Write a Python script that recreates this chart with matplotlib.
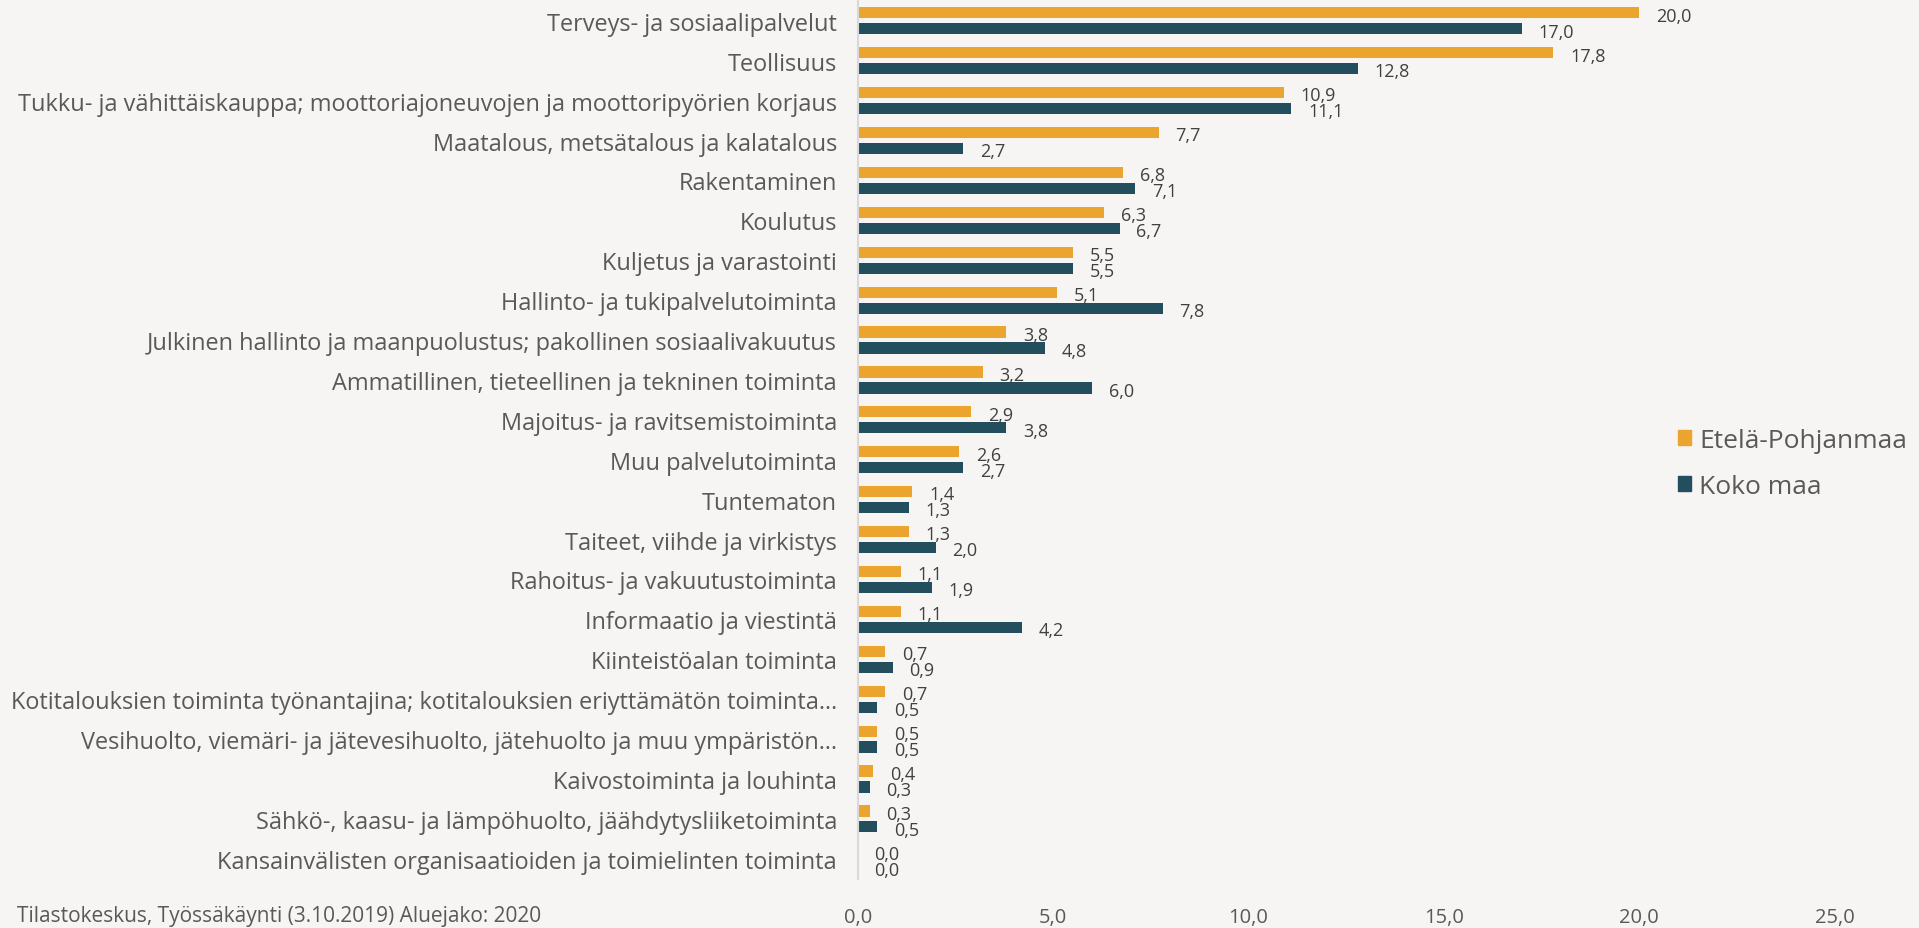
import numpy as np
import matplotlib.pyplot as plt
from matplotlib.patches import Patch

plt.rcParams['font.family'] = ['Open Sans', 'DejaVu Sans']

toimialat = ['Terveys- ja sosiaalipalvelut', 'Teollisuus',
             'Tukku- ja vähittäiskauppa; moottoriajoneuvojen ja moottoripyörien korjaus',
             'Maatalous, metsätalous ja kalatalous', 'Rakentaminen', 'Koulutus',
             'Kuljetus ja varastointi', 'Hallinto- ja tukipalvelutoiminta',
             'Julkinen hallinto ja maanpuolustus; pakollinen sosiaalivakuutus',
             'Ammatillinen, tieteellinen ja tekninen toiminta',
             'Majoitus- ja ravitsemistoiminta', 'Muu palvelutoiminta', 'Tuntematon',
             'Taiteet, viihde ja virkistys', 'Rahoitus- ja vakuutustoiminta',
             'Informaatio ja viestintä', 'Kiinteistöalan toiminta',
             'Kotitalouksien toiminta työnantajina; kotitalouksien eriyttämätön toiminta…',
             'Vesihuolto, viemäri- ja jätevesihuolto, jätehuolto ja muu ympäristön…',
             'Kaivostoiminta ja louhinta',
             'Sähkö-, kaasu- ja lämpöhuolto, jäähdytysliiketoiminta',
             'Kansainvälisten organisaatioiden ja toimielinten toiminta']
etela_pohjanmaa = [20.0, 17.8, 10.9, 7.7, 6.8, 6.3, 5.5, 5.1, 3.8, 3.2, 2.9, 2.6, 1.4,
                   1.3, 1.1, 1.1, 0.7, 0.7, 0.5, 0.4, 0.3, 0.0]
koko_maa = [17.0, 12.8, 11.1, 2.7, 7.1, 6.7, 5.5, 7.8, 4.8, 6.0, 3.8, 2.7, 1.3,
            2.0, 1.9, 4.2, 0.9, 0.5, 0.5, 0.3, 0.5, 0.0]
xticks = [0, 5, 10, 15, 20, 25]
lahde = 'Tilastokeskus, Työssäkäynti (3.10.2019) Aluejako: 2020'

oranssi = '#EBA52F'
tumma = '#234E5E'
tausta = '#F6F5F3'
teksti = '#595959'

fig = plt.figure(figsize=(19.19, 9.29), dpi=100, facecolor=tausta)
ax = fig.add_axes([0.447, 0.053, 0.509, 0.945], facecolor=tausta)

y = np.arange(len(toimialat))
h = 0.28
ax.barh(y - 0.2, etela_pohjanmaa, height=h, color=oranssi)
ax.barh(y + 0.2, koko_maa, height=h, color=tumma)

def fmt(v):
    return f'{v:.1f}'.replace('.', ',')

for i in range(len(y)):
    ax.annotate(fmt(etela_pohjanmaa[i]), (etela_pohjanmaa[i], y[i] - 0.2),
                xytext=(12, -2), textcoords='offset points', va='center',
                ha='left', fontsize=13, color='#404040')
    ax.annotate(fmt(koko_maa[i]), (koko_maa[i], y[i] + 0.2),
                xytext=(12, -2), textcoords='offset points', va='center',
                ha='left', fontsize=13, color='#404040')

ax.set_ylim(len(y) - 0.5, -0.5)
ax.set_yticks(y)
ax.set_yticklabels(toimialat, fontsize=16.9, color=teksti)
ax.set_xlim(0, 25)
ax.set_xticks(xticks)
ax.set_xticklabels([fmt(v) for v in xticks], fontsize=14.5, color=teksti)
ax.tick_params(axis='both', length=0)
ax.tick_params(axis='x', pad=20)
ax.tick_params(axis='y', pad=15)
for s in ['top', 'right', 'bottom']:
    ax.spines[s].set_visible(False)
ax.spines['left'].set_color('#D9D9D9')
ax.spines['left'].set_linewidth(1.5)

handles = [Patch(color=oranssi), Patch(color=tumma)]
fig.legend(handles, ['Etelä-Pohjanmaa', 'Koko maa'], loc='center left',
           bbox_to_anchor=(0.862, 0.5), frameon=False, fontsize=19,
           handlelength=0.5, handleheight=0.5, handletextpad=0.3,
           labelspacing=0.8, labelcolor=teksti)

fig.text(0.009, 0.002, lahde, fontsize=15, color=teksti, ha='left', va='bottom')

fig.savefig('out.png', dpi=100, facecolor=tausta)
